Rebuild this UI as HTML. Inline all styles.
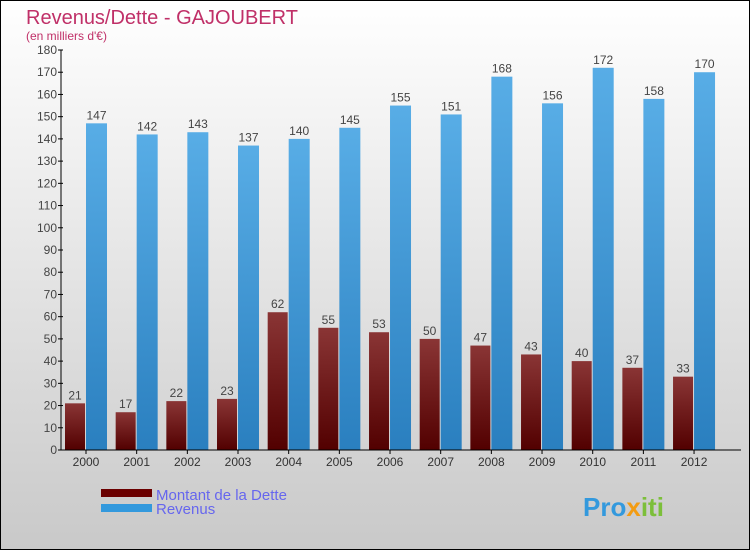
<!DOCTYPE html>
<html><head><meta charset="utf-8"><style>
body{margin:0}
#c{width:748px;height:548px;border:1px solid #000;background:linear-gradient(#ffffff,#c9c9c9);position:relative;font-family:"Liberation Sans",sans-serif;overflow:hidden}
</style></head><body>
<div id="c">
<svg id="s" width="748" height="548" xmlns="http://www.w3.org/2000/svg">
<defs>
<linearGradient id="gd" x1="0" y1="0" x2="0" y2="1"><stop offset="0" stop-color="#8a3535"/><stop offset="1" stop-color="#520000"/></linearGradient>
<linearGradient id="gr" x1="0" y1="0" x2="0" y2="1"><stop offset="0" stop-color="#58ade6"/><stop offset="1" stop-color="#2a7fbf"/></linearGradient>
</defs>
<text x="25" y="23" font-size="20" fill="#c03068">Revenus/Dette - GAJOUBERT</text>
<text x="25" y="39" font-size="12" fill="#c03068">(en milliers d'€)</text>
<g id="plot"></g>
<rect x="100" y="488" width="51" height="8" fill="#6b0000"/>
<rect x="100" y="503" width="51" height="8" fill="#3399dd"/>
<text x="155" y="499" font-size="15" fill="#6666ee">Montant de la Dette</text>
<text x="155" y="513" font-size="15" fill="#6666ee">Revenus</text>
<text x="582" y="515" font-size="26" font-weight="bold" fill="#3399dd">Pro<tspan fill="#f39c12">x</tspan><tspan fill="#7cbf3a">iti</tspan></text>
</svg>
</div>
<script>
const years=["2000","2001","2002","2003","2004","2005","2006","2007","2008","2009","2010","2011","2012"];
const dette=[21,17,22,23,62,55,53,50,47,43,40,37,33];
const revenus=[147,142,143,137,140,145,155,151,168,156,172,158,170];
const ticks=[0,10,20,30,40,50,60,70,80,90,100,110,120,130,140,150,160,170,180];
const NS="http://www.w3.org/2000/svg";
const g=document.getElementById('plot');
const x0=60,y0=449,yTop=49,max=180,gw=50.67;
const y=v=>y0-(v/max)*(y0-yTop);
const gx=i=>x0+i*gw;
function mk(t,a){const e=document.createElementNS(NS,t);for(const k in a)e.setAttribute(k,a[k]);g.appendChild(e);return e;}
years.forEach((yr,i)=>{
  const b1=mk('rect',{x:gx(i)+4,y:y(dette[i]),width:20,height:y0-y(dette[i]),fill:'url(#gd)'});
  
  
  const b2=mk('rect',{x:gx(i)+25,y:y(revenus[i]),width:21,height:y0-y(revenus[i]),fill:'url(#gr)'});
  
  
  const l1=mk('text',{x:gx(i)+14,y:y(dette[i])-4,'font-size':12,fill:'#444','text-anchor':'middle'});l1.textContent=dette[i];
  
  
  const l2=mk('text',{x:gx(i)+35.5,y:y(revenus[i])-4,'font-size':12,fill:'#444','text-anchor':'middle'});l2.textContent=revenus[i];
  
  
  const xl=mk('text',{x:gx(i)+25,y:y0+16,'font-size':12,fill:'#333','text-anchor':'middle'});xl.textContent=yr;
  
  
  mk('line',{x1:gx(i)+25,x2:gx(i)+25,y1:y0,y2:y0+4,stroke:'#000'});
});
ticks.forEach(t=>{
  mk('line',{x1:x0-3,x2:x0+2,y1:y(t),y2:y(t),stroke:'#000'});
  const tl=mk('text',{x:x0-4,y:y(t)+4,'font-size':12,fill:'#444','text-anchor':'end'});tl.textContent=t;
  
  
});
const ya=mk('line',{x1:x0,x2:x0,y1:yTop,y2:y0,stroke:'#000'});


const xa=mk('line',{x1:x0-3,x2:740,y1:y0,y2:y0,stroke:'#000'});


</script>
</body></html>
